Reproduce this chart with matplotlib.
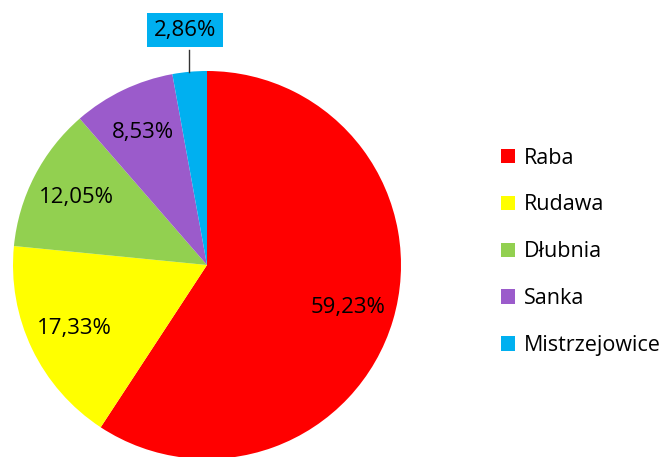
import numpy as np
import matplotlib.pyplot as plt
from matplotlib.patches import Patch

names = ["Raba", "Rudawa", "Dłubnia", "Sanka", "Mistrzejowice"]
shares = [59.23, 17.33, 12.05, 8.53, 2.86]
colors = ["#FF0000", "#FFFF00", "#92D050", "#9B5BCB", "#00B0F0"]

plt.rcParams["font.family"] = ["Open Sans", "DejaVu Sans"]

fig = plt.figure(figsize=(6.67, 4.57), dpi=100)
ax = fig.add_axes([13 / 667, -2 / 457, 388 / 667, 388 / 457])

wedges, texts, autotexts = ax.pie(
    shares, colors=colors, startangle=90, counterclock=False,
    autopct=lambda p: f"{p:.2f}%".replace(".", ","), pctdistance=0.76,
    textprops={"fontsize": 16, "color": "black"},
    wedgeprops={"linewidth": 0}, radius=1.0,
)
ax.set_xlim(-1, 1)
ax.set_ylim(-1, 1)
ax.set_aspect("equal")
ax.axis("off")

# smallest slice: label moved above the pie with a leader line
small = autotexts[-1]
small.set_position((-0.114, 1.21))
small.set_ha("center")
small.set_va("center")
small.set_clip_on(False)
small.set_bbox(dict(boxstyle="square,pad=0.3", fc=colors[-1], ec="none"))
ax.plot([-0.093, -0.093], [1.11, 0.995], color="#333333", lw=1, clip_on=False)

handles = [Patch(facecolor=c, edgecolor="none") for c in colors]
fig.legend(handles, names, loc="upper left", bbox_to_anchor=(492 / 667, 1 - 139 / 457),
           frameon=False, fontsize=15.5, handlelength=0.65, handleheight=0.65,
           handletextpad=0.45, labelspacing=1.2, borderaxespad=0)

fig.savefig("out.png", dpi=100)
